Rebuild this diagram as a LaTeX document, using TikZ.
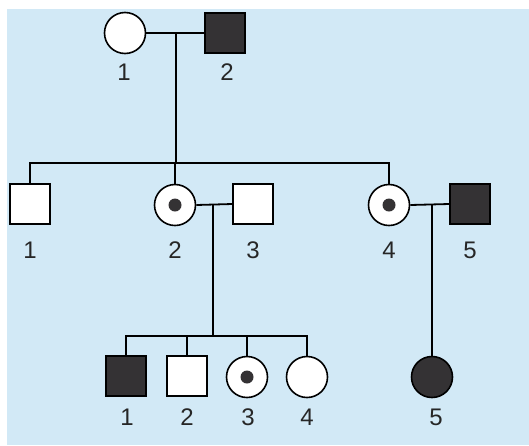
\documentclass[tikz,border=0pt]{standalone}
\usepackage{fontspec}
\setmainfont{Liberation Sans}
\definecolor{bgblue}{RGB}{210,233,246}
\definecolor{dark}{RGB}{52,50,52}
\begin{document}
\begin{tikzpicture}[x=1pt,y=-1pt,line width=1.8pt,
  base/.style={draw=black,line width=1.6pt,inner sep=0pt,fill=white},
  male/.style={base,rectangle,minimum size=40pt},
  female/.style={base,circle,minimum size=41pt},
  affected/.style={fill=dark},
  carrier/.style={path picture={\fill[dark] (path picture bounding box.center) circle (6.5pt);}},
  lab/.style={inner sep=0pt,text=black!85,font=\fontsize{24}{24}\selectfont}]
\useasboundingbox (0,0) rectangle (529,445);
\fill[white] (0,0) rectangle (529,445);
\fill[bgblue] (7,9) rectangle (529,445);
% generation I
\node[female] (I1) at (125,33) {};
\node[male,affected] (I2) at (225,33) {};
\node[lab] (lI1) at (124,72) {1};
\node[lab] (lI2) at (227,72) {2};
% generation II
\node[male] (II1) at (30,204) {};
\node[female,carrier] (II2) at (175,205) {};
\node[male] (II3) at (253,204) {};
\node[female,carrier] (II4) at (389,205) {};
\node[male,affected] (II5) at (470,204) {};
\node[lab] (lII1) at (30,250) {1};
\node[lab] (lII2) at (175,250) {2};
\node[lab] (lII3) at (253,250) {3};
\node[lab] (lII4) at (389,250) {4};
\node[lab] (lII5) at (470,250) {5};
% generation III
\node[male,affected] (III1) at (126,376) {};
\node[male] (III2) at (187,376) {};
\node[female,carrier] (III3) at (247,377) {};
\node[female] (III4) at (307,377) {};
\node[female,affected] (III5) at (432,377) {};
\node[lab] (lIII1) at (127,417) {1};
\node[lab] (lIII2) at (187,417) {2};
\node[lab] (lIII3) at (248,417) {3};
\node[lab] (lIII4) at (307,417) {4};
\node[lab] (lIII5) at (436,417) {5};
% connectors generation I
\coordinate (m1) at (176,33);
\coordinate (s1) at (176,163);
\draw (I1.east) -- (I2.west);
\draw (m1) -- (s1);
\draw (II1.north) -- (II1.north |- s1) -- (II4.north |- s1) -- (II4.north);
\draw (II2.north) -- (II2.north |- s1);
% connectors generation II
\coordinate (m2) at (213,205);
\coordinate (s2) at (213,336);
\draw (II2.east) -- (II3.west);
\draw (m2) -- (s2);
\draw (III1.north) -- (III1.north |- s2) -- (III4.north |- s2) -- (III4.north);
\draw (III2.north) -- (III2.north |- s2);
\draw (III3.north) -- (III3.north |- s2);
\coordinate (m3) at (432,205);
\draw (II4.east) -- (II5.west);
\draw (m3) -- (III5.north);
\end{tikzpicture}
\end{document}
